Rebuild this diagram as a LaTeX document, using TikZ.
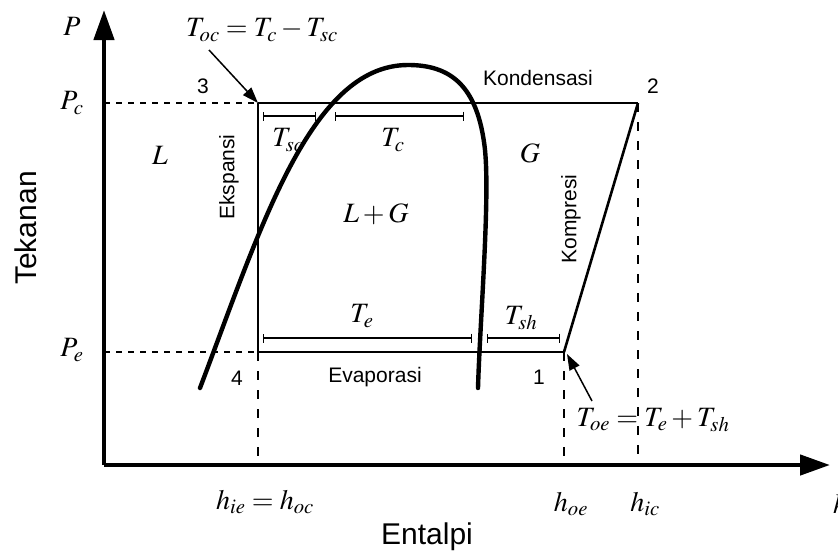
\documentclass[tikz,border=0pt]{standalone}
\usepackage{mathptmx}
\usepackage{fontspec}
\setsansfont{Liberation Sans}
\usetikzlibrary{arrows.meta}

\tikzset{
  axis/.style={line width=4.5pt, -{Triangle[length=30pt,width=20pt]}},
  dome/.style={line width=4.4pt, line cap=round},
  cycleline/.style={line width=1.6pt},
  guide/.style={line width=2.2pt, dash pattern=on 6pt off 6pt},
  drop/.style={line width=2.2pt, dash pattern=on 9pt off 10pt},
  span/.style={line width=1.3pt, {Bar[width=9pt]}-{Bar[width=9pt]}},
  pointer/.style={line width=1.5pt, -{Triangle[length=16pt,width=11pt]}},
  mlabel/.style={font=\fontsize{28}{31}\selectfont, inner sep=0pt},
  tlabel/.style={font=\sffamily\fontsize{21}{24}\selectfont, inner sep=0pt},
}

\begin{document}
\begin{tikzpicture}[x=1pt, y=-1pt]
    \useasboundingbox (0,0) rectangle (838,555);

    % Axes
    \coordinate (O) at (104,465);
    \coordinate (ytip) at (104,10);
    \coordinate (xtip) at (830,465);
    \draw[axis] (O) -- (ytip);
    \draw[axis] (O) -- (xtip);

    % Cycle points
    \coordinate (p1) at (564,352);
    \coordinate (p2) at (638,103);
    \coordinate (p3) at (258,103);
    \coordinate (p4) at (258,352);
    \coordinate (pc) at (104,103);
    \coordinate (pe) at (104,352);
    \coordinate (h4) at (258,465);
    \coordinate (h1) at (564,465);
    \coordinate (h2) at (638,465);

    % Dashed guides to the axes
    \draw[guide] (pc) -- (p3);
    \draw[guide] (pe) -- (p4);
    \draw[drop] (p4) -- (h4);
    \draw[drop] (p1) -- (h1);
    \draw[drop] (p2) -- (h2);

    % Cycle: condensation, expansion, evaporation, compression
    \draw[cycleline] (p3) -- (p2);
    \draw[cycleline] (p3) -- (p4);
    \draw[cycleline] (p4) -- (p1);
    \draw[line width=2.6pt] (p1) -- (p2);

    % Saturation dome
    \draw[dome] (200,388) .. controls (260,230) and (310,65) .. (408,65)
        .. controls (450,65) and (478,85) .. (485,150)
        .. controls (490,200) and (480,320) .. (478,388);

    % Temperature spans
    \draw[span] (263,116) -- (316,116);
    \draw[span] (335,116) -- (464,116);
    \draw[span] (263,338) -- (472,338);
    \draw[span] (487,338) -- (560,338);

    % Axis labels
    \node[mlabel] (lblP) at (72,26) {$P$};
    \node[mlabel] (lblPc) at (72,103) {$P_c$};
    \node[mlabel] (lblPe) at (72,350) {$P_e$};
    \node[tlabel, font=\sffamily\fontsize{30}{34}\selectfont, rotate=90] (lblTek) at (26,228) {Tekanan};
    \node[tlabel, font=\sffamily\fontsize{30}{34}\selectfont] (lblEnt) at (427,537) {Entalpi};
    \node[mlabel] (lblhie) at (265,502) {$h_{ie}=h_{oc}$};
    \node[mlabel] (lblhoe) at (571,504) {$h_{oe}$};
    \node[mlabel] (lblhic) at (645,504) {$h_{ic}$};
    \node[mlabel] (lblh) at (840,504) {$h$};

    % Point numbers
    \node[tlabel] (n3) at (203,86) {3};
    \node[tlabel] (n2) at (653,86) {2};
    \node[tlabel] (n4) at (237,378) {4};
    \node[tlabel] (n1) at (539,377) {1};

    % Process names
    \node[tlabel] (kond) at (538,78) {Kondensasi};
    \node[tlabel] (evap) at (375,377) {Evaporasi};
    \node[tlabel, rotate=90] (eksp) at (229,177) {Ekspansi};
    \node[tlabel, rotate=90] (komp) at (571,219) {Kompresi};

    % Region and span labels
    \node[mlabel] (regL) at (160,155) {$L$};
    \node[mlabel] (regG) at (530,153) {$G$};
    \node[mlabel] (regLG) at (376,214) {$L+G$};
    \node[mlabel] (lblTsc) at (288,140) {$T_{sc}$};
    \node[mlabel] (lblTc) at (393,140) {$T_c$};
    \node[mlabel] (lblTe) at (362,316) {$T_e$};
    \node[mlabel] (lblTsh) at (521,318) {$T_{sh}$};

    % Outlet temperature notes
    \node[mlabel] (toc) at (262,30) {$T_{oc}=T_c-T_{sc}$};
    \coordinate (tocfoot) at (209,50);
    \draw[pointer] (tocfoot) -- (p3);
    \node[mlabel] (toe) at (653,420) {$T_{oe}=T_e+T_{sh}$};
    \coordinate (toefoot) at (592,401);
    \draw[pointer] (toefoot) -- ([xshift=3pt,yshift=-2pt]p1);
\end{tikzpicture}
\end{document}
